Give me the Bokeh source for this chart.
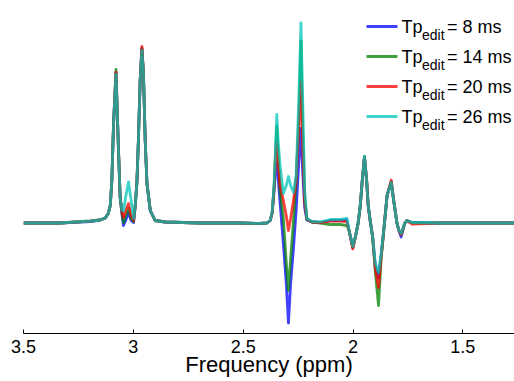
from bokeh.plotting import figure
from bokeh.models import Range1d, FixedTicker, Label, BoxAnnotation
from bokeh.embed import file_html
from bokeh.resources import INLINE

# ---- data ----
ppm = [3.500, 3.333, 3.196, 3.151, 3.128, 3.114, 3.105, 3.098, 3.090, 3.079,
       3.068, 3.060, 3.052, 3.045, 3.035, 3.022, 3.010, 2.999, 2.992, 2.984,
       2.977, 2.969, 2.961, 2.954, 2.946, 2.938, 2.923, 2.901, 2.855, 2.696,
       2.514, 2.423, 2.392, 2.377, 2.368, 2.359, 2.352, 2.347, 2.341, 2.332,
       2.317, 2.304, 2.294, 2.284, 2.271, 2.259, 2.247, 2.237, 2.229, 2.220,
       2.210, 2.187, 2.150, 2.104, 2.059, 2.028, 2.018, 2.001, 1.988, 1.977,
       1.967, 1.958, 1.948, 1.938, 1.931, 1.922, 1.911, 1.899, 1.884, 1.872,
       1.858, 1.845, 1.826, 1.815, 1.800, 1.792, 1.781, 1.765, 1.755, 1.731,
       1.603, 1.267]

tp8 = [0.0, 0.0, 0.015, 0.03, 0.05, 0.095, 0.175, 0.42, 0.995, 1.505,
       0.755, 0.255, 0.095, -0.025, 0.025, 0.105, 0.025, 0.005, 0.158, 0.395,
       0.825, 1.425, 1.745, 1.495, 0.825, 0.395, 0.125, 0.025, 0.01, 0.0,
       0.0, -0.005, 0.0, 0.025, 0.10, 0.33, 0.55, 0.60, 0.45, 0.20,
       -0.21, -0.60, -1.0, -0.60, -0.25, 0.125, 0.60, 0.945, 0.50, 0.15,
       0.03, 0.01, 0.005, 0.025, 0.025, 0.03, -0.075, -0.245, -0.125, -0.005,
       0.175, 0.425, 0.66, 0.425, 0.175, 0.025, -0.135, -0.42, -0.55, -0.325,
       -0.025, 0.275, 0.41, 0.225, 0.0, -0.07, -0.14, -0.005, 0.025, 0.005,
       0.0, 0.0]

tp14 = [0.0, 0.0, 0.018, 0.03, 0.05, 0.095, 0.175, 0.42, 0.995, 1.535,
        0.755, 0.255, 0.105, 0.005, 0.075, 0.145, 0.045, 0.015, 0.158, 0.395,
        0.825, 1.425, 1.745, 1.495, 0.825, 0.395, 0.125, 0.025, 0.01, 0.0,
        0.0, -0.005, 0.0, 0.025, 0.105, 0.37, 0.75, 0.97, 0.70, 0.325,
        0.045, -0.395, -0.675, -0.355, 0.025, 0.425, 1.0, 1.82, 0.90, 0.25,
        0.04, 0.01, 0.0, -0.015, -0.015, -0.025, -0.075, -0.245, -0.125, -0.005,
        0.175, 0.425, 0.665, 0.425, 0.175, 0.025, -0.135, -0.48, -0.825, -0.36,
        -0.025, 0.275, 0.41, 0.225, 0.0, -0.07, -0.115, -0.005, 0.025, 0.0,
        0.0, 0.0]

tp20 = [0.0, 0.0, 0.02, 0.03, 0.05, 0.095, 0.175, 0.42, 0.995, 1.505,
        0.755, 0.255, 0.115, 0.055, 0.125, 0.195, 0.075, 0.025, 0.158, 0.395,
        0.825, 1.425, 1.765, 1.495, 0.825, 0.395, 0.125, 0.025, 0.01, 0.0,
        0.0, -0.005, 0.0, 0.025, 0.105, 0.36, 0.70, 0.80, 0.62, 0.375,
        0.225, 0.075, -0.075, 0.045, 0.225, 0.425, 0.95, 1.41, 0.75, 0.20,
        0.04, 0.01, 0.005, 0.018, 0.02, 0.015, -0.075, -0.26, -0.125, -0.005,
        0.175, 0.425, 0.655, 0.425, 0.175, 0.025, -0.135, -0.45, -0.645, -0.34,
        -0.025, 0.275, 0.43, 0.225, 0.0, -0.07, -0.115, -0.005, 0.025, -0.01,
        0.0, 0.0]

tp26 = [0.0, 0.0, 0.02, 0.03, 0.05, 0.095, 0.175, 0.42, 0.995, 1.485,
        0.755, 0.255, 0.125, 0.12, 0.26, 0.41, 0.225, 0.045, 0.158, 0.395,
        0.825, 1.425, 1.725, 1.495, 0.825, 0.395, 0.125, 0.025, 0.01, 0.0,
        0.0, -0.005, 0.0, 0.025, 0.11, 0.40, 0.78, 1.085, 0.825, 0.575,
        0.295, 0.375, 0.465, 0.375, 0.305, 0.475, 1.225, 2.0, 1.225, 0.325,
        0.045, 0.015, 0.01, 0.035, 0.035, 0.045, -0.075, -0.235, -0.125, -0.005,
        0.175, 0.425, 0.665, 0.425, 0.175, 0.025, -0.135, -0.40, -0.495, -0.31,
        -0.025, 0.275, 0.405, 0.225, 0.0, -0.07, -0.105, -0.005, 0.025, 0.005,
        0.0, 0.0]

series = [tp8, tp14, tp20, tp26]
tp_edit_ms = [8, 14, 20, 26]
colors = ["#0000ff", "#008000", "#ff0000", "#00c4b8"]

tick_values = [3.5, 3.0, 2.5, 2.0, 1.5]
tick_labels = ["3.5", "3", "2.5", "2", "1.5"]

# ---- layout ----
X0, X1 = 3.5, 1.265
Y0, Y1 = -1.105, 2.125
FL, FT, FW, FH = 23, 10, 491, 323   # frame position on the page (px)

def dx(px):
    return X0 + (px - FL) * (X1 - X0) / FW

def dy(py):
    return Y1 - (py - FT) * (Y1 - Y0) / FH

FONT = "Liberation Sans"

p = figure(width=514, height=381, output_backend="svg", toolbar_location=None,
           x_range=Range1d(X0, X1), y_range=Range1d(Y0, Y1),
           y_axis_location=None, min_border_left=23, min_border_right=0,
           min_border_top=10, min_border_bottom=48)
p.outline_line_color = None
p.xgrid.visible = False
p.ygrid.visible = False
p.background_fill_color = "white"
p.border_fill_color = "white"

for ys, c in zip(series, colors):
    p.line(ppm, ys, line_color=c, line_width=2.8, line_alpha=0.75,
           line_join="round")

ax = p.xaxis[0]
ax.ticker = FixedTicker(ticks=tick_values, minor_ticks=[])
ax.major_label_overrides = {v: s for v, s in zip(tick_values, tick_labels)}
ax.major_tick_in = 4
ax.major_tick_out = 0
ax.minor_tick_in = 0
ax.minor_tick_out = 0
ax.axis_line_color = "black"
ax.major_tick_line_color = "black"
ax.major_label_text_font = FONT
ax.major_label_text_font_size = "18px"
ax.major_label_text_color = "black"
ax.major_label_standoff = 6
ax.axis_label = "Frequency (ppm)"
ax.axis_label_text_font = FONT
ax.axis_label_text_font_size = "22px"
ax.axis_label_text_font_style = "normal"
ax.axis_label_text_color = "black"
ax.axis_label_standoff = -4

# ---- legend (manual, to allow the subscript) ----
for i, (c, ms) in enumerate(zip(colors, tp_edit_ms)):
    yb = 26 + 30 * i
    p.add_layout(BoxAnnotation(left=dx(366), right=dx(397),
                               top=dy(yb - 1.5), bottom=dy(yb + 1.5),
                               fill_color=c, fill_alpha=0.75, line_color=None))
    p.add_layout(Label(x=dx(401), y=dy(yb), text="Tp", text_font=FONT,
                       text_font_size="18px", text_baseline="alphabetic",
                       text_align="left", text_color="black"))
    p.add_layout(Label(x=dx(421.5), y=dy(yb + 8.6), text="edit", text_font=FONT,
                       text_font_size="14px", text_baseline="alphabetic",
                       text_align="left", text_color="black"))
    p.add_layout(Label(x=dx(446.5), y=dy(yb), text="= %d ms" % ms,
                       text_font=FONT, text_font_size="18px",
                       text_baseline="alphabetic", text_align="left",
                       text_color="black"))

open("out.html", "w").write(file_html(p, INLINE))
